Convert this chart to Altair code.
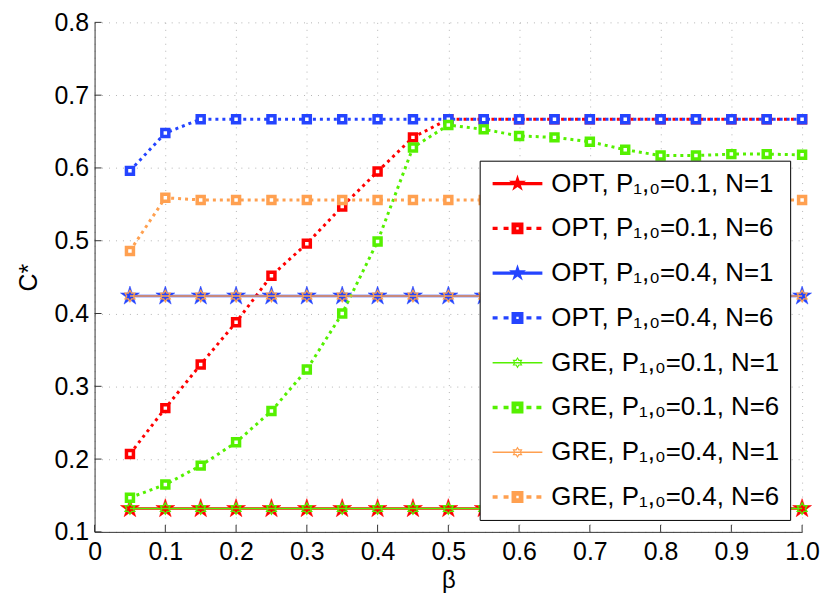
import math
import altair as alt
import pandas as pd

# ---------------- data ----------------
beta = [0.05, 0.10, 0.15, 0.20, 0.25, 0.30, 0.35, 0.40, 0.45, 0.50,
        0.55, 0.60, 0.65, 0.70, 0.75, 0.80, 0.85, 0.90, 0.95, 1.00]

opt01_n1 = [0.132, 0.132, 0.132, 0.132, 0.132, 0.132, 0.132, 0.132, 0.132, 0.132,
            0.132, 0.132, 0.132, 0.132, 0.132, 0.132, 0.132, 0.132, 0.132, 0.132]
opt01_n6 = [0.207, 0.270, 0.330, 0.388, 0.452, 0.496, 0.547, 0.595, 0.642, 0.667,
            0.667, 0.667, 0.667, 0.667, 0.667, 0.667, 0.667, 0.667, 0.667, 0.667]
opt04_n1 = [0.424, 0.424, 0.424, 0.424, 0.424, 0.424, 0.424, 0.424, 0.424, 0.424,
            0.424, 0.424, 0.424, 0.424, 0.424, 0.424, 0.424, 0.424, 0.424, 0.424]
opt04_n6 = [0.596, 0.648, 0.667, 0.667, 0.667, 0.667, 0.667, 0.667, 0.667, 0.667,
            0.667, 0.667, 0.667, 0.667, 0.667, 0.667, 0.667, 0.667, 0.667, 0.667]
gre01_n1 = [0.132, 0.132, 0.132, 0.132, 0.132, 0.132, 0.132, 0.132, 0.132, 0.132,
            0.132, 0.132, 0.132, 0.132, 0.132, 0.132, 0.132, 0.132, 0.132, 0.132]
gre01_n6 = [0.147, 0.165, 0.191, 0.223, 0.266, 0.323, 0.400, 0.499, 0.628, 0.659,
            0.653, 0.644, 0.642, 0.636, 0.625, 0.617, 0.617, 0.619, 0.619, 0.618]
gre04_n1 = [0.424, 0.424, 0.424, 0.424, 0.424, 0.424, 0.424, 0.424, 0.424, 0.424,
            0.424, 0.424, 0.424, 0.424, 0.424, 0.424, 0.424, 0.424, 0.424, 0.424]
gre04_n6 = [0.486, 0.559, 0.556, 0.556, 0.556, 0.556, 0.556, 0.556, 0.556, 0.556,
            0.556, 0.556, 0.556, 0.556, 0.556, 0.556, 0.556, 0.556, 0.556, 0.556]

series_names = [
    "OPT, P\u2081,\u2080=0.1, N=1",
    "OPT, P\u2081,\u2080=0.1, N=6",
    "OPT, P\u2081,\u2080=0.4, N=1",
    "OPT, P\u2081,\u2080=0.4, N=6",
    "GRE, P\u2081,\u2080=0.1, N=1",
    "GRE, P\u2081,\u2080=0.1, N=6",
    "GRE, P\u2081,\u2080=0.4, N=1",
    "GRE, P\u2081,\u2080=0.4, N=6",
]
series_values = [opt01_n1, opt01_n6, opt04_n1, opt04_n6,
                 gre01_n1, gre01_n6, gre04_n1, gre04_n6]
series_kinds = ["opt1", "n6", "opt1", "n6", "gre1", "n6", "gre1", "n6"]
series_colors = ["#ff0000", "#ff0000", "#2444ff", "#2444ff",
                 "#55f000", "#55f000", "#ffa050", "#ffa050"]

x_ticks = [0, 0.1, 0.2, 0.3, 0.4, 0.5, 0.6, 0.7, 0.8, 0.9, 1.0]
y_ticks = [0.1, 0.2, 0.3, 0.4, 0.5, 0.6, 0.7, 0.8]

# ---------------- marker shapes (SVG paths in unit space) ----------------
def fmt(p):
    return f"{p[0]:.3f},{p[1]:.3f}"


def poly(pts):
    return "M" + "L".join(fmt(p) for p in pts) + "Z"


def star_pts(cx, cy, r_out, r_in, n, start=-90.0):
    pts = []
    for i in range(2 * n):
        r = r_out if i % 2 == 0 else r_in
        a = math.radians(start + i * 180.0 / n)
        pts.append((cx + r * math.cos(a), cy + r * math.sin(a)))
    return pts


def rect(x1, x2, h):
    return poly([(x1, -h), (x2, -h), (x2, h), (x1, h)])


def square_pts(cx, a):
    return [(cx - a, -a), (cx + a, -a), (cx + a, a), (cx - a, a)]


STAR = poly(star_pts(0, 0, 1.0, 0.382, 5))
HEXA = poly(star_pts(0, 0, 1.0, 0.577, 6))

MC = 1.5  # marker centre inside legend sample
leg_opt1 = rect(-1.0, 4.0, 0.17) + poly(star_pts(MC, 0, 0.9, 0.344, 5))
leg_n6 = (rect(-1.0, -0.5, 0.17) + rect(0.1, 0.6, 0.17)
          + rect(2.4, 2.9, 0.17) + rect(3.4, 3.9, 0.17)
          + poly(square_pts(MC, 0.6)) + poly(list(reversed(square_pts(MC, 0.12)))))
leg_gre1 = (rect(-1.0, 4.0, 0.07)
            + poly(star_pts(MC, 0, 0.58, 0.335, 6))
            + poly(list(reversed(star_pts(MC, 0, 0.36, 0.2, 6)))))
legend_paths = {"opt1": leg_opt1, "n6": leg_n6, "gre1": leg_gre1}

# ---------------- table ----------------
rows = []
for name, vals in zip(series_names, series_values):
    for b, v in zip(beta, vals):
        rows.append({"series": name, "beta": b, "c": v})
df = pd.DataFrame(rows)

FONT = "Liberation Sans"
W, H = 711, 512

x_scale = alt.Scale(domain=[0, 1], nice=False)
y_scale = alt.Scale(domain=[0.1, 0.8], nice=False, zero=False)

x_axis = alt.Axis(values=x_ticks, labelExpr="datum.value == 0 ? '0' : format(datum.value, '.1f')",
                  title="\u03b2", grid=True, ticks=False, labelFontSize=25, labelFont=FONT,
                  labelColor="black", labelPadding=8, titleFont=FONT, titleFontSize=24,
                  titleFontWeight="normal", titleColor="black", titleY=56, titleX=W / 2,
                  titleBaseline="alphabetic", domainColor="#333333", gridColor="#b4b4b4",
                  gridDash=[1, 6], labelFlush=False)
y_axis = alt.Axis(values=y_ticks, format=".1f", title="C*", grid=True, ticks=False,
                  labelFontSize=25, labelFont=FONT, labelColor="black", labelPadding=6,
                  titleFont=FONT, titleFontSize=25, titleFontWeight="normal", titleColor="black",
                  titleX=-58, titleY=H / 2, titleAngle=270, titleBaseline="alphabetic",
                  titleAlign="center", domainColor="#333333", gridColor="#b4b4b4",
                  gridDash=[1, 6], labelFlush=False)


def X(field):
    return alt.X(f"{field}:Q", scale=x_scale, axis=x_axis)


def Y(field):
    return alt.Y(f"{field}:Q", scale=y_scale, axis=y_axis)


layers = []
for name, kind, col in zip(series_names, series_kinds, series_colors):
    sub = alt.Chart(df).transform_filter(alt.datum.series == name)
    if kind == "n6":
        line = sub.mark_line(color=col, strokeWidth=3, strokeDash=[3, 4], strokeCap="butt")
        pts = sub.mark_point(shape="square", size=49, stroke=col, fill="white", filled=False,
                             strokeWidth=3.5, opacity=1)
    elif kind == "opt1":
        line = sub.mark_line(color=col, strokeWidth=2.5)
        pts = sub.mark_point(shape=STAR, size=400, fill=col, stroke=col, filled=True,
                             strokeWidth=0.5, opacity=1)
    else:
        line = sub.mark_line(color=col, strokeWidth=1.5)
        pts = sub.mark_point(shape=HEXA, size=130, stroke=col, filled=False,
                             strokeWidth=1.3, opacity=1)
    layers.append(line.encode(x=X("beta"), y=Y("c")))
    layers.append(pts.encode(x=X("beta"), y=Y("c")))

# inward tick marks (bottom and left)
xt_df = pd.DataFrame({"t": x_ticks})
yt_df = pd.DataFrame({"t": y_ticks})
layers.append(alt.Chart(xt_df).mark_rule(color="#333333", strokeWidth=1).encode(
    x=X("t"), y=alt.value(H), y2=alt.value(H - 7)))
layers.append(alt.Chart(yt_df).mark_rule(color="#333333", strokeWidth=1).encode(
    y=Y("t"), x=alt.value(0), x2=alt.value(7)))

# legend layer (no visible marks, only the legend)
leg = alt.Legend(title=None, orient="none", legendX=387, legendY=139, fillColor="white",
                 strokeColor="black", padding=10, labelFont=FONT, labelFontSize=26,
                 labelColor="black", labelOffset=36, rowPadding=19, symbolSize=400,
                 symbolStrokeWidth=0, labelLimit=500)
legend_layer = alt.Chart(df).transform_filter("datum.beta > 100").mark_point(
    filled=True, opacity=1, strokeWidth=0).encode(
    x=X("beta"), y=Y("c"),
    fill=alt.Fill("series:N", scale=alt.Scale(domain=series_names, range=series_colors), legend=leg),
    shape=alt.Shape("series:N", scale=alt.Scale(domain=series_names,
                                                range=[legend_paths[k] for k in series_kinds]),
                    legend=leg),
)
layers.append(legend_layer)

chart = alt.layer(*layers).properties(
    width=W, height=H,
    padding={"left": 87, "top": 13, "right": 20, "bottom": 62},
    autosize=alt.AutoSizeParams(type="none"),
    background="white",
).configure_view(stroke=None)

chart.save("out.html", embed_options={"renderer": "svg", "actions": False})
